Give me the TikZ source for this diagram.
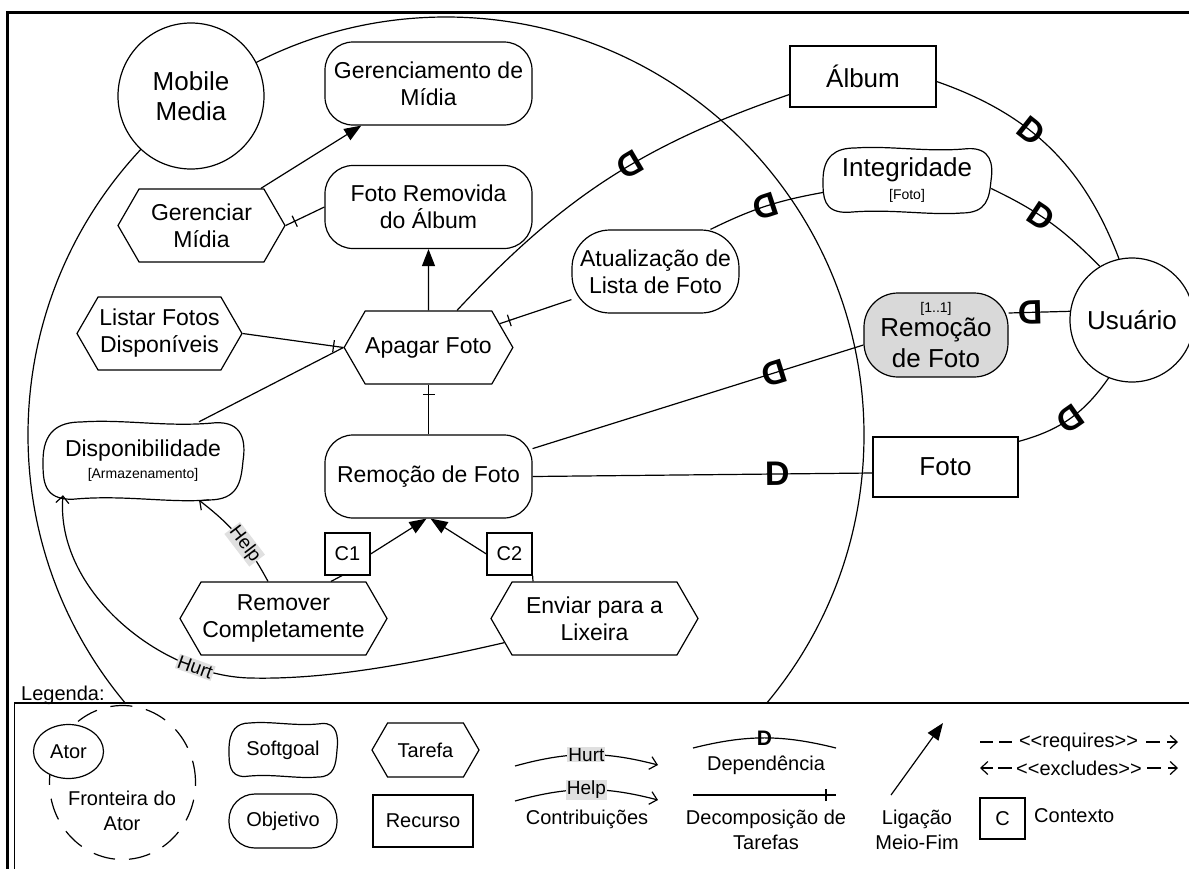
\documentclass[tikz,border=0pt]{standalone}
\usepackage{fontspec}
\setmainfont{Liberation Sans}
\usetikzlibrary{arrows.meta,shapes.symbols,shapes.geometric,decorations.markings}
\newcommand\fs[2]{\fontsize{#1}{#2}\selectfont}
% softgoal: name, centre, half width, half height, text
\newcommand\softgoal[5]{%
 \node[sgtext,minimum width=2*#3,minimum height=2*#4] (#1) at #2 {#5};
 \draw[line] ([shift={(-#3,0)}]#1.center)
  .. controls ([shift={(-#3,-.75*#4)}]#1.center) and ([shift={(-.85*#3,-#4)}]#1.center) .. ([shift={(-.62*#3,-#4)}]#1.center)
  .. controls ([shift={(-.2*#3,-1.08*#4)}]#1.center) and ([shift={(.25*#3,-.86*#4)}]#1.center) .. ([shift={(.72*#3,-.98*#4)}]#1.center)
  .. controls ([shift={(#3,-1.02*#4)}]#1.center) and ([shift={(1.03*#3,-.5*#4)}]#1.center) .. ([shift={(#3,0)}]#1.center)
  .. controls ([shift={(.98*#3,.55*#4)}]#1.center) and ([shift={(.95*#3,#4)}]#1.center) .. ([shift={(.65*#3,#4)}]#1.center)
  .. controls ([shift={(.25*#3,1.08*#4)}]#1.center) and ([shift={(-.2*#3,.86*#4)}]#1.center) .. ([shift={(-.7*#3,.98*#4)}]#1.center)
  .. controls ([shift={(-#3,#4)}]#1.center) and ([shift={(-#3,.5*#4)}]#1.center) .. ([shift={(-#3,0)}]#1.center) -- cycle;}
\begin{document}
\begin{tikzpicture}[x=1pt,y=-1pt,
    line/.style={line width=1.2pt},
    actor/.style={circle,draw,line width=1.2pt,fill=white,inner sep=0pt,align=center,font=\fs{26}{30}},
    goal/.style={rectangle,rounded corners=28pt,draw,line width=1.2pt,fill=white,inner sep=0pt,align=center,
                 font=\fs{23}{27},minimum width=207pt,minimum height=83pt},
    task/.style={signal,signal to=west and east,signal pointer angle=120,draw,line width=1.2pt,fill=white,
                 inner sep=0pt,align=center,font=\fs{23}{27},minimum width=207pt,minimum height=73pt},
    resource/.style={rectangle,draw,line width=1.2pt,fill=white,inner sep=0pt,font=\fs{26}{30}},
    sgtext/.style={rectangle,inner sep=0pt,align=center,font=\fs{23}{27}},
    ctx/.style={rectangle,draw,line width=1.2pt,fill=white,minimum width=45pt,minimum height=42pt,inner sep=0pt,font=\fs{20}{24}},
    meansend/.style={line,-{Triangle[length=17pt,width=13pt]}},
    contrib/.style={line,-{Straight Barb[length=7pt,width=13pt]}},
    decomp/.style={line,postaction={decorate},
                   decoration={markings,mark=at position -10pt with {\draw[line] (0pt,-6pt) -- (0pt,6pt);}}},
    dmark/.style={sloped,allow upside down,inner sep=0pt,font=\fs{34}{34}\bfseries},
    lbl/.style={fill=black!12,inner sep=1pt,font=\fs{19}{22}},
    legtext/.style={font=\fs{20}{25},align=center,inner sep=0pt}]
 \useasboundingbox (0,0) rectangle (1189,868);
 \clip (0,0) rectangle (1189,868);
 % fronteira do ator
 \draw[line] (446,435) circle[radius=418];
 % elementos
 \node[actor,minimum size=146pt] (mobile) at (191,96) {Mobile\\Media};
 \node[goal] (gerenc) at (428.5,83.5) {Gerenciamento de\\Mídia};
 \node[goal] (fotorem) at (428.5,207) {Foto Removida\\do Álbum};
 \node[task,minimum width=167pt] (germid) at (201.5,225.5) {Gerenciar\\Mídia};
 \node[resource,minimum width=146pt,minimum height=61pt] (album) at (863,76.5) {Álbum};
 \softgoal{integ}{(907,180.5)}{84}{32.5}{\fs{26}{30}Integridade\\[-4pt]{\fs{14}{16}[Foto]}}
 \node[goal,minimum width=167pt,rounded corners=38pt] (atual) at (655.5,271.5) {Atualização de\\Lista de Foto};
 \node[task,minimum width=165pt] (listar) at (159.5,333.5) {Listar Fotos\\Disponíveis};
 \node[task,minimum width=165pt] (apagar) at (428.5,347.5) {Apagar Foto};
 \node[goal,minimum width=144pt,minimum height=84pt,rounded corners=34pt,fill=black!15,font=\fs{26}{31}] (remgrey)
   at (936,335) {{\fs{14}{16}[1..1]}\\[-7pt]Remoção\\de Foto};
 \node[actor,minimum size=124pt] (usuario) at (1132,320) {Usuário};
 \softgoal{disp}{(143,461)}{100}{39}{Disponibilidade\\[-5pt]{\fs{14}{16}[Armazenamento]}}
 \node[goal] (remfoto) at (428.5,476.5) {Remoção de Foto};
 \node[resource,minimum width=145pt,minimum height=60pt] (foto) at (945.5,467) {Foto};
 \node[ctx] (c1) at (347.5,554) {C1};
 \node[ctx] (c2) at (509.5,554) {C2};
 \node[task] (remover) at (283.5,618.5) {Remover\\Completamente};
 \node[task] (enviar) at (594.5,618.5) {Enviar para a\\Lixeira};
 % ligacoes internas
 \draw[meansend] (germid) -- (gerenc);
 \draw[decomp] (fotorem.west) -- (germid.east);
 \draw[meansend] (apagar) -- (fotorem);
 \draw[decomp] (listar.east) -- (apagar.west);
 \draw[line] ([xshift=56pt]disp.north) -- (apagar.west);
 \draw[decomp] (atual) -- (apagar);
 \draw[decomp] (remfoto) -- (apagar);
 \draw[line] ([xshift=47.5pt]remover.north) -- ([xshift=-5.5pt]c1.south);
 \draw[meansend] (c1.east) -- ([xshift=-2pt]remfoto.south);
 \draw[line] ([xshift=-61.5pt]enviar.north) -- (c2.south east);
 \draw[meansend] (c2.west) -- ([xshift=2pt]remfoto.south);
 \draw[contrib] ([xshift=-15.5pt]remover.north) to[bend right=12] node[lbl,sloped,pos=.4] {Help} ([xshift=56pt]disp.south);
 \draw[contrib] (enviar.195) .. controls (420,662) and (330,680) .. (250,678)
   .. controls (160,676) and (55,590) .. ([xshift=-80pt,yshift=5pt]disp.south) node[lbl,sloped,pos=.2] {Hurt};
 % dependencias
 \draw[line] ([yshift=-18pt]album.west) to[bend right=14] node[dmark,pos=.43] {D} ([xshift=28.5pt]apagar.north);
 \draw[line] ([yshift=-12pt]integ.west) to[bend right=8] node[dmark,pos=.5] {D} ([xshift=55pt]atual.north);
 \draw[line] ([yshift=-5pt]album.east) to[bend left=25] node[dmark,pos=.4] {D} (usuario.102);
 \draw[line] ([yshift=-8pt]integ.east) to[bend left=10] node[dmark,pos=.42] {D} (usuario.121);
 \draw[line] (usuario.172) -- node[dmark,pos=.65] {D} ([yshift=22pt]remgrey.east);
 \draw[line] ([yshift=-10pt]remgrey.west) -- node[dmark,pos=.27] {D} (remfoto.15);
 \draw[line] (remfoto.east) -- node[dmark,pos=.72] {D} ([yshift=-6pt]foto.west);
 \draw[line] (usuario.248) to[bend left=20] node[dmark,pos=.5] {D} ([yshift=-5pt]foto.north east);
 % legenda
 \draw[line width=1.5pt,fill=white] (14.5,703) rectangle (1200,880);
 \node[anchor=west,font=\fs{20}{24},inner sep=0pt] (legenda) at (21,695) {Legenda:};
 \node[ellipse,draw,line width=1.2pt,dash pattern=on 22pt off 14pt,minimum width=146pt,minimum height=154pt,inner sep=0pt]
   (lgfront) at (122.5,782.5) {};
 \node[legtext] (lgfronttxt) at (122,811) {Fronteira do\\Ator};
 \node[ellipse,draw,line width=1.2pt,fill=white,minimum width=70pt,minimum height=54pt,inner sep=0pt,font=\fs{20}{24}]
   (lgator) at (68.5,751.5) {Ator};
 \softgoal{lgsoft}{(283,750)}{54}{27}{\fs{20}{24}Softgoal}
 \node[goal,minimum width=108pt,minimum height=54pt,rounded corners=26pt,font=\fs{20}{24}] (lggoal) at (283,821) {Objetivo};
 \node[task,minimum width=107pt,minimum height=54pt,font=\fs{20}{24}] (lgtask) at (425.5,750) {Tarefa};
 \node[resource,minimum width=100pt,minimum height=52pt,font=\fs{20}{24}] (lgres) at (423,821) {Recurso};
 \coordinate (lghua) at (515,766); \coordinate (lghub) at (658,765);
 \draw[contrib] (lghua) to[bend left=15] node[lbl] {Hurt} (lghub);
 \coordinate (lghea) at (515,801); \coordinate (lgheb) at (658,800);
 \draw[contrib] (lghea) to[bend left=15] node[lbl] {Help} (lgheb);
 \node[legtext] (lgcontrib) at (587,819) {Contribuições};
 \coordinate (lgdepa) at (693,748); \coordinate (lgdepb) at (836,748);
 \draw[line] (lgdepa) to[bend left=14] node[dmark,font=\fs{21}{21}\bfseries] {D} (lgdepb);
 \node[legtext] (lgdep) at (766,765) {Dependência};
 \coordinate (lgdeca) at (693,795); \coordinate (lgdecb) at (836,795);
 \draw[decomp] (lgdeca) -- (lgdecb);
 \node[legtext] (lgdec) at (766,830) {Decomposição de\\Tarefas};
 \coordinate (lgmea) at (891,795); \coordinate (lgmeb) at (943,723);
 \draw[meansend] (lgmea) -- (lgmeb);
 \node[legtext] (lgme) at (917,830) {Ligação\\Meio-Fim};
 \node[legtext] (lgreq) at (1078.5,742) {<{}<requires>{}>};
 \coordinate (lgreqa) at (980,742); \coordinate (lgreqb) at (1178,742);
 \draw[line,dash pattern=on 13pt off 6pt] (lgreqa) -- ([xshift=-5pt]lgreq.west);
 \draw[contrib,dash pattern=on 14pt off 7pt] ([xshift=8pt]lgreq.east) -- (lgreqb);
 \node[legtext] (lgexc) at (1079,768) {<{}<excludes>{}>};
 \coordinate (lgexca) at (980,768); \coordinate (lgexcb) at (1178,768);
 \draw[contrib,dash pattern=on 14pt off 5pt] ([xshift=-4pt]lgexc.west) -- (lgexca);
 \draw[contrib,dash pattern=on 14pt off 7pt] ([xshift=5pt]lgexc.east) -- (lgexcb);
 \node[ctx,minimum height=41pt] (lgctx) at (1002.5,818.5) {C};
 \node[legtext,anchor=west] (lgctxt) at (1034,816) {Contexto};
 % moldura
 \draw[line width=3pt] (7,12) rectangle (1200,880);
\end{tikzpicture}
\end{document}
